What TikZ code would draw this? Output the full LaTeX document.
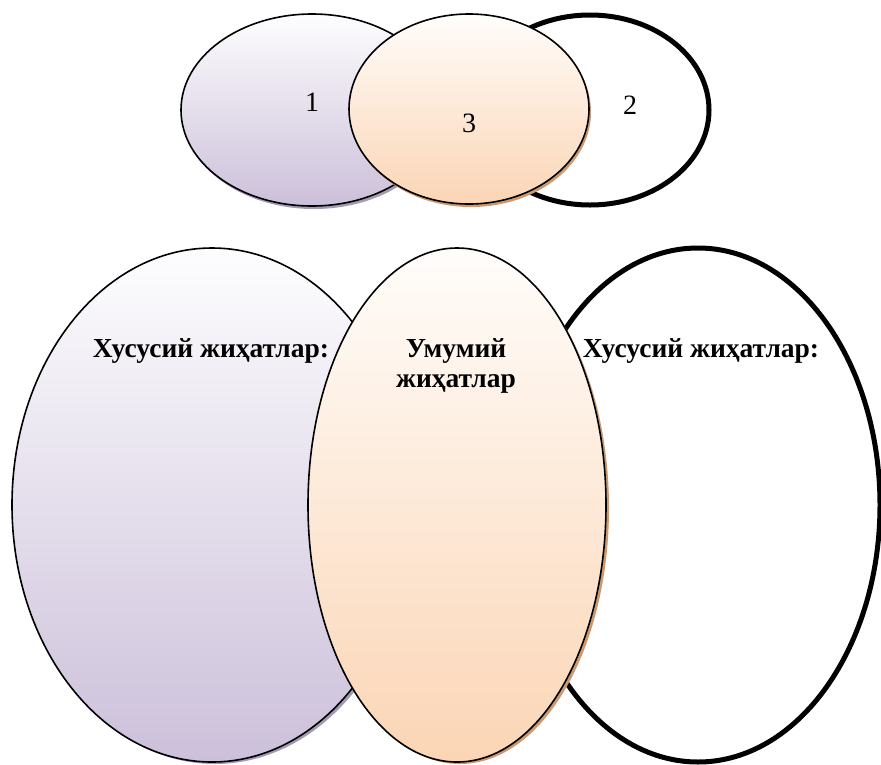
\documentclass[tikz,border=0pt]{standalone}
\usepackage{fontspec}
\setmainfont{Liberation Serif}
\definecolor{lav}{HTML}{CCC0DA}
\definecolor{lavtop}{HTML}{FDFDFE}
\definecolor{lavsh}{HTML}{A39BB0}
\definecolor{peach}{HTML}{FBD5B5}
\definecolor{peachtop}{HTML}{FFFDFB}
\definecolor{peachsh}{HTML}{C99A74}
\tikzset{
  thinring/.style={draw=black,line width=1.6pt},
  thickring/.style={draw=black,line width=5pt,fill=white},
  lavfill/.style={top color=lavtop,bottom color=lav},
  peachfill/.style={top color=peachtop,bottom color=peach},
  numlabel/.style={font=\fontsize{28}{30}\selectfont,inner sep=0pt},
  boldlabel/.style={font=\fontsize{27.5}{30}\selectfont\bfseries,inner sep=0pt,align=center}
}
\begin{document}
\begin{tikzpicture}[x=1pt,y=-1pt]
\useasboundingbox (0,0) rectangle (881,764);
% ---- top ----
\fill[lavsh] (314,113) ellipse [x radius=131,y radius=96];
\path[lavfill,thinring] (312,110) ellipse [x radius=131,y radius=96];
\path[thickring] (590,110) ellipse [x radius=119,y radius=95];
\fill[peachsh] (471,112) ellipse [x radius=120,y radius=95];
\path[peachfill,thinring] (469,109) ellipse [x radius=120,y radius=95];
\node[numlabel] (n1) at (312,102) {1};
\node[numlabel] (n2) at (630,105) {2};
\node[numlabel] (n3) at (469,123) {3};
% ---- bottom ----
\fill[lavsh] (215,508) ellipse [x radius=200,y radius=256];
\path[lavfill,thinring] (212,505) ellipse [x radius=200,y radius=257];
\path[thickring] (698,505) ellipse [x radius=182,y radius=257];
\fill[peachsh] (460,508) ellipse [x radius=149,y radius=256];
\path[peachfill,thinring] (457,505) ellipse [x radius=149,y radius=257];
\node[boldlabel,anchor=base] (l1) at (211,357) {Хусусий жиҳатлар:};
\node[boldlabel,anchor=base] (l2) at (456,387) {Умумий\\жиҳатлар};
\node[boldlabel,anchor=base] (l3) at (701,357) {Хусусий жиҳатлар:};
\end{tikzpicture}
\end{document}
